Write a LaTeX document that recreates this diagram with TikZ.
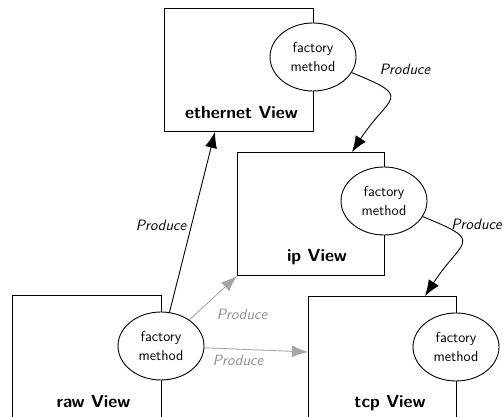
\documentclass[tikz,border=0pt]{standalone}
\usetikzlibrary{shapes.geometric,arrows.meta,calc}
\begin{document}
\begin{tikzpicture}[x=1pt,y=1pt,
  viewbox/.style={draw, line width=0.9pt, minimum width=149pt, minimum height=123pt, anchor=north west, inner sep=0pt},
  fmeth/.style={draw, fill=white, ellipse, line width=0.9pt, minimum width=86pt, minimum height=68pt, inner sep=0pt, align=center, font=\sffamily\fontsize{14.5}{19}\selectfont},
  vlabel/.style={font=\sffamily\bfseries\fontsize{17.5}{20}\selectfont, anchor=base},
  prod/.style={font=\sffamily\itshape\fontsize{15}{18}\selectfont},
  blk/.style={line width=0.9pt, -{Latex[length=16pt,width=12pt]}},
  gry/.style={line width=0.9pt, draw=black!35, -{Latex[length=16pt,width=12pt]}},
]
\useasboundingbox (0,0) rectangle (503,417);
% boxes
\node[viewbox] (eth) at (164,409) {};
\node[viewbox, minimum width=147pt] (ip) at (237,265) {};
\node[viewbox] (raw) at (12,122) {};
\node[viewbox, minimum width=148pt] (tcp) at (308,121) {};
% labels
\node[vlabel] (ethl) at (241.5,298) {ethernet View};
\node[vlabel] (ipl) at (317,155) {ip View};
\node[vlabel] (rawl) at (93.5,9) {raw View};
\node[vlabel] (tcpl) at (390,9) {tcp View};
% ellipses
\node[fmeth] (ethm) at (313,360) {factory\\method};
\node[fmeth] (ipm) at (384,216) {factory\\method};
\node[fmeth] (rawm) at (161,71) {factory\\method};
\node[fmeth] (tcpm) at (456,70) {factory\\method};
% connector ends
\coordinate (ethin) at ($(eth.south west)+(51,0)$);
\coordinate (tcpin) at ($(tcp.north west)+(0,-56)$);
\coordinate (ipin) at ($(ip.north west)+(115,0)$);
\coordinate (tcptop) at ($(tcp.north west)+(117,0)$);
% connectors
\draw[blk] (rawm) -- (ethin);
\node[prod] (p1) at (161,192) {Produce};
\draw[gry] (rawm) -- (ip.south west);
\node[prod, text=black!45] (p2) at (242,103) {Produce};
\draw[gry] (rawm) -- (tcpin);
\node[prod, text=black!45] (p3) at (238,57) {Produce};
\draw[blk] (ethm) to[out=-22, in=57, looseness=2.2] (ipin);
\node[prod] (p4) at (405,348) {Produce};
\draw[blk] (ipm) to[out=-22, in=57, looseness=2.2] (tcptop);
\node[prod] (p5) at (476.5,193) {Produce};
\end{tikzpicture}
\end{document}
